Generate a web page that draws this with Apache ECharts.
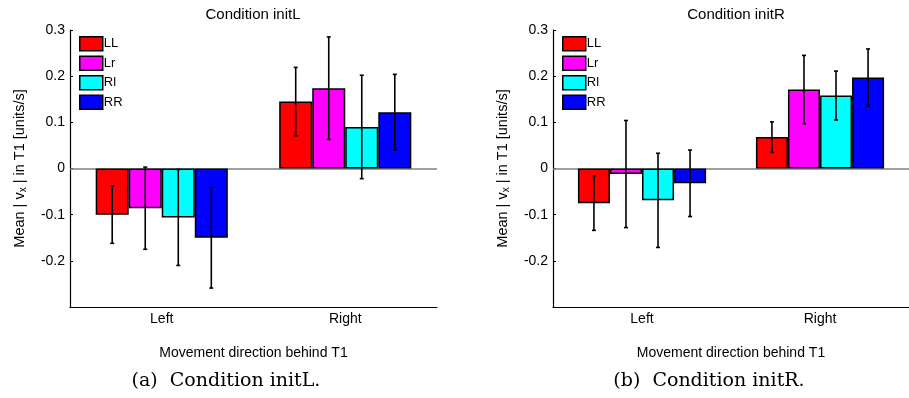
<!DOCTYPE html>
<html>
<head>
<meta charset="utf-8">
<script src="https://cdn.jsdelivr.net/npm/echarts@6/dist/echarts.min.js"></script>
<style>
html,body{margin:0;padding:0;background:#fff;}
#chart{width:909px;height:398px;}
</style>
</head>
<body>
<div id="chart"></div>
<script>
// ---- data ----
const categories = ['Left', 'Right'];
const seriesNames = ['LL', 'Lr', 'Rl', 'RR'];
const seriesColors = ['#ff0000', '#ff00ff', '#00ffff', '#0000ff'];
const yTickLabels = ['-0.2', '-0.1', '0', '0.1', '0.2', '0.3'];

// Condition initL (means per category, and error half-widths)
const initL_LL = [-0.100, 0.145];
const initL_Lr = [-0.086, 0.174];
const initL_Rl = [-0.106, 0.090];
const initL_RR = [-0.150, 0.122];
const initL_LL_err = [0.062, 0.074];
const initL_Lr_err = [0.089, 0.111];
const initL_Rl_err = [0.104, 0.112];
const initL_RR_err = [0.109, 0.082];

// Condition initR
const initR_LL = [-0.075, 0.068];
const initR_Lr = [-0.012, 0.171];
const initR_Rl = [-0.069, 0.158];
const initR_RR = [-0.032, 0.197];
const initR_LL_err = [0.059, 0.033];
const initR_Lr_err = [0.116, 0.074];
const initR_Rl_err = [0.102, 0.053];
const initR_RR_err = [0.072, 0.062];

const panels = [
  { title: 'Condition initL', caption: '(a)  Condition initL.',
    means: [initL_LL, initL_Lr, initL_Rl, initL_RR],
    errs: [initL_LL_err, initL_Lr_err, initL_Rl_err, initL_RR_err] },
  { title: 'Condition initR', caption: '(b)  Condition initR.',
    means: [initR_LL, initR_Lr, initR_Rl, initR_RR],
    errs: [initR_LL_err, initR_Lr_err, initR_Rl_err, initR_RR_err] }
];

// ---- layout ----
const FONT = 'Liberation Sans, Arial, Helvetica, sans-serif';
const BAR_FRAC = 0.18;
const grids = [
  { left: 70, top: 30, width: 367, height: 277 },
  { left: 553, top: 30, width: 369, height: 277 }
];
const titleX = [253, 736];
const captionX = [226, 709];
const legendX = [79, 562];

const chart = echarts.init(document.getElementById('chart'), null, { renderer: 'canvas' });

const option = {
  backgroundColor: '#fff',
  animation: false,
  textStyle: { fontFamily: FONT },
  title: panels.map((p, i) => ({
    text: p.title, left: titleX[i], top: 7, padding: 0, textAlign: 'center',
    textStyle: { fontFamily: FONT, fontSize: 15, fontWeight: 'normal', color: '#000' }
  })),
  legend: panels.map((p, i) => ({
    data: seriesNames, orient: 'vertical', left: legendX[i], top: 36, padding: 0,
    itemWidth: 23, itemHeight: 14, itemGap: 4, icon: 'rect',
    itemStyle: { borderColor: '#000', borderWidth: 1.5 },
    textStyle: { fontFamily: FONT, fontSize: 13, color: '#000', padding: [0, 0, 0, -4] },
    selectedMode: false
  })),
  grid: grids,
  xAxis: grids.map((g, i) => ({
    type: 'category', gridIndex: i, data: categories, boundaryGap: true,
    name: 'Movement direction behind T1', nameLocation: 'middle', nameGap: 39,
    nameTextStyle: { fontFamily: FONT, fontSize: 14, color: '#000' },
    axisLine: { onZero: false, lineStyle: { color: '#000', width: 1.2 } },
    axisTick: { alignWithLabel: true, inside: true, length: 3, lineStyle: { color: '#000' } },
    axisLabel: { fontFamily: FONT, fontSize: 14, color: '#000', margin: 5 },
    splitLine: { show: false }
  })),
  yAxis: grids.map((g, i) => ({
    type: 'value', gridIndex: i, min: -0.3, max: 0.3, interval: 0.1,
    name: '{a|Mean | v}{s|x}{a| | in T1 [units/s]}', nameLocation: 'middle', nameGap: 42, nameRotate: 90,
    nameTextStyle: {
      fontFamily: FONT, fontSize: 14, color: '#000',
      rich: {
        a: { fontFamily: FONT, fontSize: 14.5, color: '#000', lineHeight: 16, verticalAlign: 'top' },
        s: { fontFamily: FONT, fontSize: 10, color: '#000', lineHeight: 10, padding: [7, 0, 0, 0], verticalAlign: 'bottom' }
      }
    },
    axisLine: { show: true, lineStyle: { color: '#000', width: 1.2 } },
    axisTick: { show: true, inside: true, length: 3, lineStyle: { color: '#000' } },
    axisLabel: {
      fontFamily: FONT, fontSize: 14, color: '#000', margin: 5,
      formatter: v => {
        const s = (Math.round(v * 10) / 10).toFixed(1);
        const lab = s === '0.0' || s === '-0.0' ? '0' : s;
        return yTickLabels.indexOf(lab) >= 0 ? lab : '';
      }
    },
    splitLine: { show: false }
  })),
  series: [],
  graphic: panels.map((p, i) => ({
    type: 'text', x: captionX[i], y: 381, z: 10,
    style: { text: p.caption, font: '19px "DejaVu Serif", serif', fill: '#000', textAlign: 'center', textVerticalAlign: 'middle' }
  }))
};

panels.forEach((p, gi) => {
  seriesNames.forEach((nm, k) => {
    const s = {
      type: 'bar', name: nm, xAxisIndex: gi, yAxisIndex: gi,
      data: p.means[k], barWidth: (BAR_FRAC * 100) + '%', barGap: '0%',
      itemStyle: { color: seriesColors[k], borderColor: '#000', borderWidth: 1.5 },
      silent: true, z: 3
    };
    if (k === 0) {
      s.markLine = {
        silent: true, symbol: 'none', label: { show: false },
        lineStyle: { color: '#808080', width: 1.6, type: 'solid' },
        data: [{ yAxis: 0 }], z: 1
      };
    }
    option.series.push(s);
  });
  const errData = [];
  seriesNames.forEach((nm, k) => {
    categories.forEach((c, ci) => {
      errData.push([ci, p.means[k][ci], p.errs[k][ci], k]);
    });
  });
  option.series.push({
    type: 'custom', xAxisIndex: gi, yAxisIndex: gi, silent: true, z: 5,
    encode: { x: 0, y: 1 },
    data: errData,
    renderItem: (params, api) => {
      const ci = api.value(0), m = api.value(1), e = api.value(2), k = api.value(3);
      const band = api.size([1, 0])[0];
      const off = (k - 1.5) * band * BAR_FRAC;
      const top = api.coord([ci, m + e]);
      const bot = api.coord([ci, m - e]);
      const x = top[0] + off;
      const st = { stroke: '#000', lineWidth: 1.6 };
      const cw = 2;
      return {
        type: 'group',
        children: [
          { type: 'line', shape: { x1: x, y1: top[1], x2: x, y2: bot[1] }, style: st },
          { type: 'line', shape: { x1: x - cw, y1: top[1], x2: x + cw, y2: top[1] }, style: st },
          { type: 'line', shape: { x1: x - cw, y1: bot[1], x2: x + cw, y2: bot[1] }, style: st }
        ]
      };
    }
  });
});

chart.setOption(option);
</script>
</body>
</html>
